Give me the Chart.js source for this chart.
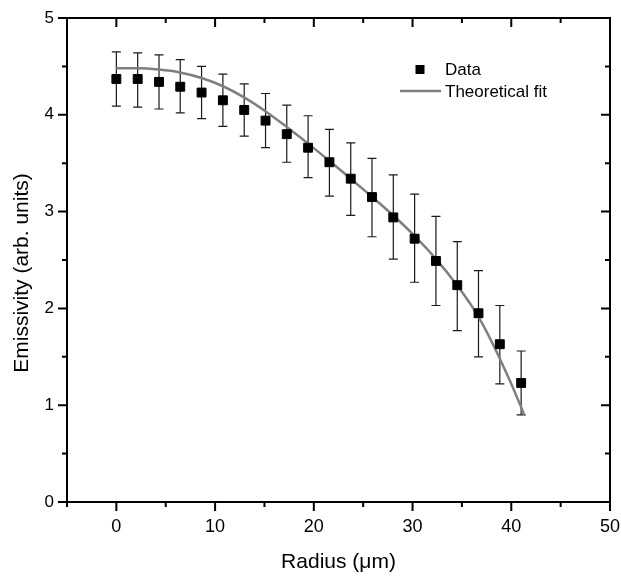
<!DOCTYPE html>
<html>
<head>
<meta charset="utf-8">
<script src="https://cdn.jsdelivr.net/npm/chart.js@4.4.0/dist/chart.umd.min.js"></script>
<style>
    html, body { margin: 0; padding: 0; background: #fff; }
</style>
</head>
<body>
<canvas id="graficoEmisividad" width="621" height="576"></canvas>
<script>
// datos
const radius = [0, 2.16, 4.32, 6.47, 8.63, 10.79, 12.95, 15.11, 17.26, 19.42, 21.58, 23.74, 25.89, 28.05, 30.21, 32.37, 34.53, 36.68, 38.84, 41.0];
const emissivity = [4.37, 4.37, 4.34, 4.29, 4.23, 4.15, 4.05, 3.94, 3.80, 3.66, 3.51, 3.34, 3.15, 2.94, 2.72, 2.49, 2.24, 1.95, 1.63, 1.23];
const errHigh = [4.65, 4.64, 4.62, 4.57, 4.50, 4.42, 4.32, 4.22, 4.10, 3.99, 3.85, 3.71, 3.55, 3.38, 3.18, 2.95, 2.69, 2.39, 2.03, 1.56];
const errLow = [4.09, 4.08, 4.06, 4.02, 3.96, 3.88, 3.78, 3.66, 3.51, 3.35, 3.16, 2.96, 2.74, 2.51, 2.27, 2.03, 1.77, 1.50, 1.22, 0.90];

const fitRadius = [0, 2.15, 4.31, 6.44, 8.64, 10.8, 12.94, 15.13, 17.3, 19.4, 21.6, 23.74, 25.9, 28.05, 30.2, 32.3, 34.5, 36.7, 38.8, 41.0, 41.3];
const fitValues = [4.48, 4.48, 4.467, 4.437, 4.38, 4.295, 4.18, 4.035, 3.872, 3.705, 3.522, 3.34, 3.152, 2.96, 2.75, 2.52, 2.24, 1.91, 1.49, 0.98, 0.90];

const xLabelTicks = [0, 10, 20, 30, 40, 50];
const yLabelTicks = [0, 1, 2, 3, 4, 5];

const xTitle = "Radius (\u03bcm)";
const yTitle = "Emissivity (arb. units)";
const legendLabels = ["Data", "Theoretical fit"];

const fuente = "'Liberation Sans', Arial, Helvetica, sans-serif";
const grisAjuste = "#7f7f7f";

// barras de error, marco con ticks, titulos y leyenda
const marcoPlugin = {
    id: "marco",
    beforeDatasetsDraw(chart) {
        const ctx = chart.ctx;
        const xs = chart.scales.x, ys = chart.scales.y;
        ctx.save();
        ctx.strokeStyle = "#1a1a1a";
        ctx.lineWidth = 1.2;
        radius.forEach(function (r, i) {
            const px = xs.getPixelForValue(r);
            const top = ys.getPixelForValue(errHigh[i]);
            const bot = ys.getPixelForValue(errLow[i]);
            ctx.beginPath();
            ctx.moveTo(px, top); ctx.lineTo(px, bot);
            ctx.moveTo(px - 4.5, top); ctx.lineTo(px + 4.5, top);
            ctx.moveTo(px - 4.5, bot); ctx.lineTo(px + 4.5, bot);
            ctx.stroke();
        });
        ctx.restore();
    },
    afterDraw(chart) {
        const ctx = chart.ctx;
        const a = chart.chartArea;
        const xs = chart.scales.x, ys = chart.scales.y;
        ctx.save();
        ctx.strokeStyle = "#000";
        ctx.lineWidth = 2;
        ctx.strokeRect(a.left, a.top, a.right - a.left, a.bottom - a.top);

        ctx.beginPath();
        xs.ticks.forEach(function (t) {
            const px = xs.getPixelForValue(t.value);
            const len = (t.value % 10 === 0) ? 9 : 5;
            ctx.moveTo(px, a.bottom); ctx.lineTo(px, a.bottom + len);
            ctx.moveTo(px, a.top); ctx.lineTo(px, a.top + len);
        });
        ys.ticks.forEach(function (t) {
            const py = ys.getPixelForValue(t.value);
            const len = Number.isInteger(t.value) ? 9 : 5;
            ctx.moveTo(a.left, py); ctx.lineTo(a.left - len, py);
            ctx.moveTo(a.right, py); ctx.lineTo(a.right - len, py);
        });
        ctx.stroke();

        // titulos de ejes
        ctx.fillStyle = "#000";
        ctx.textAlign = "center";
        ctx.textBaseline = "middle";
        ctx.font = "21px " + fuente;
        ctx.fillText(xTitle, (a.left + a.right) / 2, 562);
        ctx.save();
        ctx.translate(22, 273);
        ctx.rotate(-Math.PI / 2);
        ctx.font = "21px " + fuente;
        ctx.fillText(yTitle, 0, 0);
        ctx.restore();

        // leyenda
        ctx.fillStyle = "#000";
        ctx.fillRect(415.5, 65, 9, 9);
        ctx.strokeStyle = grisAjuste;
        ctx.lineWidth = 2.5;
        ctx.beginPath();
        ctx.moveTo(400, 91); ctx.lineTo(441, 91);
        ctx.stroke();
        ctx.textAlign = "left";
        ctx.font = "17px " + fuente;
        ctx.fillText(legendLabels[0], 445, 70);
        ctx.fillText(legendLabels[1], 445, 92);
        ctx.restore();
    }
};

const puntos = radius.map(function (r, i) { return { x: r, y: emissivity[i] }; });
const curva = fitRadius.map(function (r, i) { return { x: r, y: fitValues[i] }; });

Chart.defaults.color = "#000";
Chart.defaults.font.family = fuente;

new Chart(document.getElementById("graficoEmisividad"), {
    type: "scatter",
    plugins: [marcoPlugin],
    data: {
        datasets: [
            {
                label: legendLabels[0],
                data: puntos,
                pointStyle: "rect",
                pointRadius: 6.3,
                backgroundColor: "#000",
                borderColor: "#000",
                borderWidth: 1
            },
            {
                label: legendLabels[1],
                data: curva,
                showLine: true,
                pointRadius: 0,
                borderColor: grisAjuste,
                borderWidth: 2.5,
                cubicInterpolationMode: "monotone",
                fill: false
            }
        ]
    },
    options: {
        responsive: false,
        animation: false,
        layout: { padding: { top: 18, right: 11, left: 0, bottom: 0 } },
        plugins: {
            legend: { display: false },
            tooltip: { enabled: false }
        },
        scales: {
            x: {
                type: "linear",
                min: -5,
                max: 50,
                grid: { display: false, drawTicks: false },
                border: { display: false },
                ticks: {
                    stepSize: 5,
                    autoSkip: false,
                    maxRotation: 0,
                    padding: 14,
                    font: { size: 18 },
                    callback: function (v) { return xLabelTicks.includes(v) ? String(v) : ""; }
                },
                afterFit: function (s) {
                    s.height = 74;
                    s.paddingLeft = 0;
                    s.paddingRight = 0;
                }
            },
            y: {
                min: 0,
                max: 5,
                grid: { display: false, drawTicks: false },
                border: { display: false },
                ticks: {
                    stepSize: 0.5,
                    autoSkip: false,
                    padding: 13,
                    font: { size: 17 },
                    callback: function (v) { return yLabelTicks.includes(v) ? String(v) : ""; }
                },
                afterFit: function (s) {
                    s.width = 67;
                    s.paddingTop = 0;
                    s.paddingBottom = 0;
                }
            }
        }
    }
});
</script>
</body>
</html>
